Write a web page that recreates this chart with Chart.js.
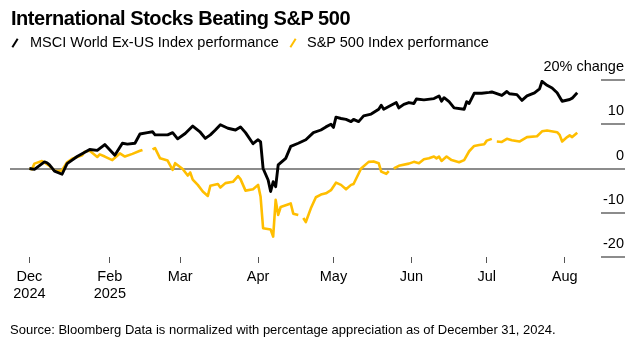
<!DOCTYPE html>
<html><head><meta charset="utf-8">
<script src="https://cdn.jsdelivr.net/npm/chart.js@4.4.1/dist/chart.umd.min.js"></script>
<style>
html,body{margin:0;padding:0;background:#fff;}
#wrap{position:relative;width:639px;height:354px;overflow:hidden;font-family:"Liberation Sans",Arial,sans-serif;color:#000;}
#c{position:absolute;left:0;top:0;}
.title{position:absolute;left:11px;top:8px;font-size:20px;font-weight:bold;line-height:20px;letter-spacing:-0.45px;white-space:nowrap;}
.leg{position:absolute;top:35px;font-size:14.5px;line-height:14.5px;white-space:nowrap;}
.icon{position:absolute;width:2.2px;height:10px;top:37.5px;transform:rotate(32deg);}
.src{position:absolute;left:10px;top:323px;font-size:13px;line-height:13px;white-space:nowrap;}
</style></head><body>
<div id="wrap">
<canvas id="c" width="639" height="354"></canvas>
<div class="title">International Stocks Beating S&amp;P 500</div>
<div class="icon" style="left:13.5px;background:#000"></div>
<div class="leg" id="leg0" style="left:30px"></div>
<div class="icon" style="left:291.5px;background:#FFBE00"></div>
<div class="leg" id="leg1" style="left:307px"></div>
<div class="src">Source: Bloomberg Data is normalized with percentage appreciation as of December 31, 2024.</div>
</div>
<script>
// x values: days since Dec 31, 2024
const seriesNames = ['MSCI World Ex-US Index performance', 'S&P 500 Index performance'];
const tickDays = [0, 32, 60, 91, 121, 152, 182, 213];
const tickLabels = [['Dec', '2024'], ['Feb', '2025'], 'Mar', 'Apr', 'May', 'Jun', 'Jul', 'Aug'];
const yTicks = [-20, -10, 0, 10, 20];

const msciDays = [0,2,6,7,8,10,13,15,19,24,27,30,34,37,39,42,44,47,49,50,55,57,59,62,65,68,70,72,74,76,79,82,84,86,89,91,92,93,95,96,97,98,99,102,104,107,110,113,116,118,120,121,122,124,126,128,129,131,133,136,139,140,141,143,146,147,149,151,153,154,157,161,163,164,165,167,169,173,174,175,177,180,183,184,188,190,191,194,196,198,201,203,204,206,208,210,212,215,216,218];
const msciValues = [0,-0.2,1.5,1.3,0.8,-0.6,-1.3,1.1,2.7,4.3,4.1,5.4,3.0,5.7,5.5,5.7,7.8,8.1,8.3,7.6,7.6,8.1,6.7,7.9,9.6,8.2,6.8,7.6,8.7,9.9,9.1,8.7,9.4,8.1,5.6,6.5,6.0,0.0,-2.6,-5.2,-3.0,-4.1,0.8,2.3,5.0,5.7,6.5,8.1,8.7,9.4,10.0,9.3,11.6,11.3,11.1,10.6,11.1,10.6,11.9,12.3,13.4,14.3,13.4,14.0,14.9,13.7,14.5,14.9,14.7,15.7,15.5,15.8,16.4,15.2,16.0,15.1,13.7,13.4,15.1,14.7,17.0,17.0,17.2,17.3,16.5,17.4,16.9,16.7,15.4,16.4,17.1,18.0,19.7,18.8,18.2,17.1,15.2,15.6,15.9,17.1];

const spxDays = [0,1,2,5,8,10,12,13,15,17,21,22,24,27,28,30,33,36,38,41,44,45,48,49,50,52,55,57,58,61,63,64,65,67,69,71,72,75,76,78,81,83,84,86,89,91,92,93,96,97,98,99,100,104,105,107,108,109,110,112,114,116,118,120,122,124,126,128,129,132,135,137,139,140,142,143,144,145,147,151,153,155,157,159,161,162,163,164,166,168,171,173,175,177,179,181,182,184,185,186,188,190,192,195,198,202,204,206,210,211,212,214,215,216,218];
const spxValues = [0,-0.2,1.1,1.7,0.6,-0.5,-0.6,-0.4,1.4,2.2,3.0,3.8,4.0,2.6,3.2,2.7,1.9,3.4,2.7,3.3,4.0,4.2,null,4.3,4.6,2.3,1.8,-0.3,1.2,-0.1,-1.6,-0.9,-2.5,-3.7,-5.2,-6.2,-3.9,-3.5,-4.3,-3.3,-3.0,-1.7,-2.4,-5.0,-4.7,-3.7,-6.4,-13.5,-13.8,-15.4,-7.1,-10.5,-8.7,-7.9,-10.2,-10.5,null,-11.2,-12.1,-9.0,-6.5,-5.9,-5.6,-4.9,-3.2,-3.7,-4.7,-3.7,-3.5,0.0,1.5,1.6,1.2,-0.7,-1.2,-0.6,null,0.0,0.6,1.1,1.5,1.2,2.1,2.3,2.7,2.3,2.7,1.7,2.7,1.9,1.4,1.9,3.9,5.1,5.3,5.5,6.3,6.7,null,6.1,6.0,6.7,6.4,6.1,7.1,7.3,8.4,8.6,8.2,7.6,6.1,7.1,7.5,7.1,8.1];

document.getElementById('leg0').textContent = seriesNames[0];
document.getElementById('leg1').textContent = seriesNames[1];

const FONT = "'Liberation Sans', Arial, sans-serif";
const toPts = (xs, ys) => xs.map((d, i) => ({x: d, y: ys[i]}));

new Chart(document.getElementById('c'), {
  type: 'line',
  data: {
    datasets: [
      {label: seriesNames[0], data: toPts(msciDays, msciValues), borderColor: '#000000', borderWidth: 2.9},
      {label: seriesNames[1], data: toPts(spxDays, spxValues), borderColor: '#FFBE00', borderWidth: 2.6}
    ]
  },
  options: {
    responsive: false,
    animation: false,
    spanGaps: false,
    layout: {padding: {left: 10, right: 14, top: 80, bottom: 47}},
    elements: {
      point: {radius: 0, hoverRadius: 0},
      line: {tension: 0, borderJoinStyle: 'round', borderCapStyle: 'butt'}
    },
    plugins: {legend: {display: false}, title: {display: false}, tooltip: {enabled: false}},
    scales: {
      x: {
        type: 'linear',
        min: -7.72,
        max: 227.46,
        afterBuildTicks: (s) => { s.ticks = tickDays.map(v => ({value: v})); },
        afterFit: (s) => { s.height = 50; },
        border: {display: false},
        grid: {drawOnChartArea: false, drawTicks: true, tickLength: 6, color: '#555', lineWidth: 1},
        ticks: {
          autoSkip: false, maxRotation: 0, padding: 5, color: '#000',
          font: {family: FONT, size: 14.5},
          callback: (v, i) => tickLabels[i]
        }
      },
      y: {
        type: 'linear',
        position: 'right',
        min: -20,
        max: 20,
        afterBuildTicks: (s) => { s.ticks = yTicks.map(v => ({value: v})); },
        afterFit: (s) => { s.width = 24; },
        border: {display: false},
        grid: {
          drawOnChartArea: true, drawTicks: true, tickLength: 24, lineWidth: 2,
          color: (ctx) => (ctx.tick && ctx.tick.value === 0) ? '#8c8c8c' : 'rgba(0,0,0,0)',
          tickColor: '#8c8c8c'
        },
        ticks: {
          mirror: true, padding: 23, labelOffset: -13, color: '#000',
          font: {family: FONT, size: 14.5},
          callback: (v) => v === 20 ? '20% change' : String(v)
        }
      }
    }
  }
});
</script>
</body></html>
